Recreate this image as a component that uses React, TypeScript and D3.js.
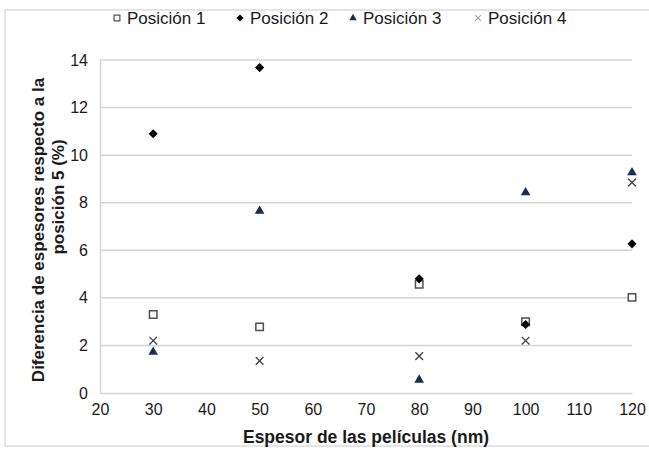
import React, { useEffect, useRef } from "react";
import * as d3 from "d3";

const thickness = [30, 50, 80, 100, 120];
const posicion1 = [3.3, 2.78, 4.57, 3.0, 4.02];
const posicion2 = [10.9, 13.68, 4.8, 2.88, 6.27];
const posicion3 = [1.72, 7.65, 0.55, 8.43, 9.27];
const posicion4 = [2.2, 1.35, 1.55, 2.2, 8.85];
const seriesNames = ["Posición 1", "Posición 2", "Posición 3", "Posición 4"];
const xTicks = [20, 30, 40, 50, 60, 70, 80, 90, 100, 110, 120];
const yTicks = [0, 2, 4, 6, 8, 10, 12, 14];

const W = 649;
const H = 455;
const margin = { top: 60, right: 17, bottom: 62, left: 100 };
const font = "Arial, 'Liberation Sans', sans-serif";

// diamond = square turned 45 degrees
const series = [
  { name: seriesNames[0], values: posicion1, shape: d3.symbolSquare, size: 56, rot: 0, fill: "#fff", stroke: "#505050", sw: 1.5 },
  { name: seriesNames[1], values: posicion2, shape: d3.symbolSquare, size: 42, rot: 45, fill: "#000", stroke: "none", sw: 0 },
  { name: seriesNames[2], values: posicion3, shape: d3.symbolTriangle, size: 40, rot: 0, fill: "#1c2a57", stroke: "none", sw: 0 },
  { name: seriesNames[3], values: posicion4, shape: d3.symbolX, size: 40, rot: 0, fill: "none", stroke: "#404040", sw: 1.3 },
];

const App = () => {
  const gx = useRef<SVGGElement>(null);
  const gy = useRef<SVGGElement>(null);

  const x = d3.scaleLinear().domain([20, 120]).range([margin.left, W - margin.right]);
  const y = d3.scaleLinear().domain([0, 14]).range([H - margin.bottom, margin.top]);

  useEffect(() => {
    const xAxis = d3.axisBottom(x).tickValues(xTicks).tickSize(0).tickPadding(11);
    const yAxis = d3.axisLeft(y).tickValues(yTicks).tickSize(0).tickPadding(12);
    const sx = d3.select(gx.current).call(xAxis);
    const sy = d3.select(gy.current).call(yAxis);
    [sx, sy].forEach((s) => {
      s.select(".domain").attr("stroke", "#d4d4d4").attr("stroke-width", 1.5);
      s.selectAll("text").attr("font-family", font).attr("font-size", 16).attr("fill", "#1a1a1a");
    });
  }, []);

  const legendX = [113, 236, 349, 474];

  return (
    <svg width={W} height={H} style={{ position: "absolute", left: 0, top: 0 }}>
      <rect x={0} y={0} width={W} height={H} fill="#fff" />
      <rect x={5} y={10} width={W + 10} height={436} fill="none" stroke="#dcdcdc" strokeWidth={1.5} />
      {yTicks.filter((t) => t > 0).map((t) => (
        <line key={t} x1={x(20)} x2={x(120)} y1={y(t)} y2={y(t)} stroke="#d4d4d4" strokeWidth={1.5} />
      ))}
      <g ref={gx} transform={`translate(0,${H - margin.bottom})`} />
      <g ref={gy} transform={`translate(${margin.left},0)`} />
      {series.map((s) =>
        s.values.map((v, i) => (
          <path
            key={s.name + i}
            d={d3.symbol(s.shape, s.size)() as string}
            transform={`translate(${x(thickness[i])},${y(v)}) rotate(${s.rot})`}
            fill={s.fill}
            stroke={s.stroke}
            strokeWidth={s.sw}
          />
        ))
      )}
      {series.map((s, i) => (
        <g key={s.name} transform={`translate(${legendX[i]},19)`}>
          <path
            d={d3.symbol(s.shape, s.size * 0.6)() as string}
            transform={`translate(4,-1) rotate(${s.rot})`}
            fill={s.fill}
            stroke={i === 3 ? "#a0a0a0" : s.stroke}
            strokeWidth={s.sw * 0.8}
          />
          <text x={14} y={5} fontFamily={font} fontSize={17} fill="#1a1a1a">
            {s.name}
          </text>
        </g>
      ))}
      <text x={x(70)} y={443} textAnchor="middle" fontFamily={font} fontSize={17.5} fontWeight="bold" fill="#1a1a1a">
        Espesor de las películas (nm)
      </text>
      <text transform={`translate(44,230) rotate(-90)`} textAnchor="middle" fontFamily={font} fontSize={17} fontWeight="bold" fill="#1a1a1a">
        <tspan x={0} dy={0}>Diferencia de espesores respecto a la</tspan>
        <tspan x={33} dy={20}>posición 5 (%)</tspan>
      </text>
    </svg>
  );
};

export default App;
